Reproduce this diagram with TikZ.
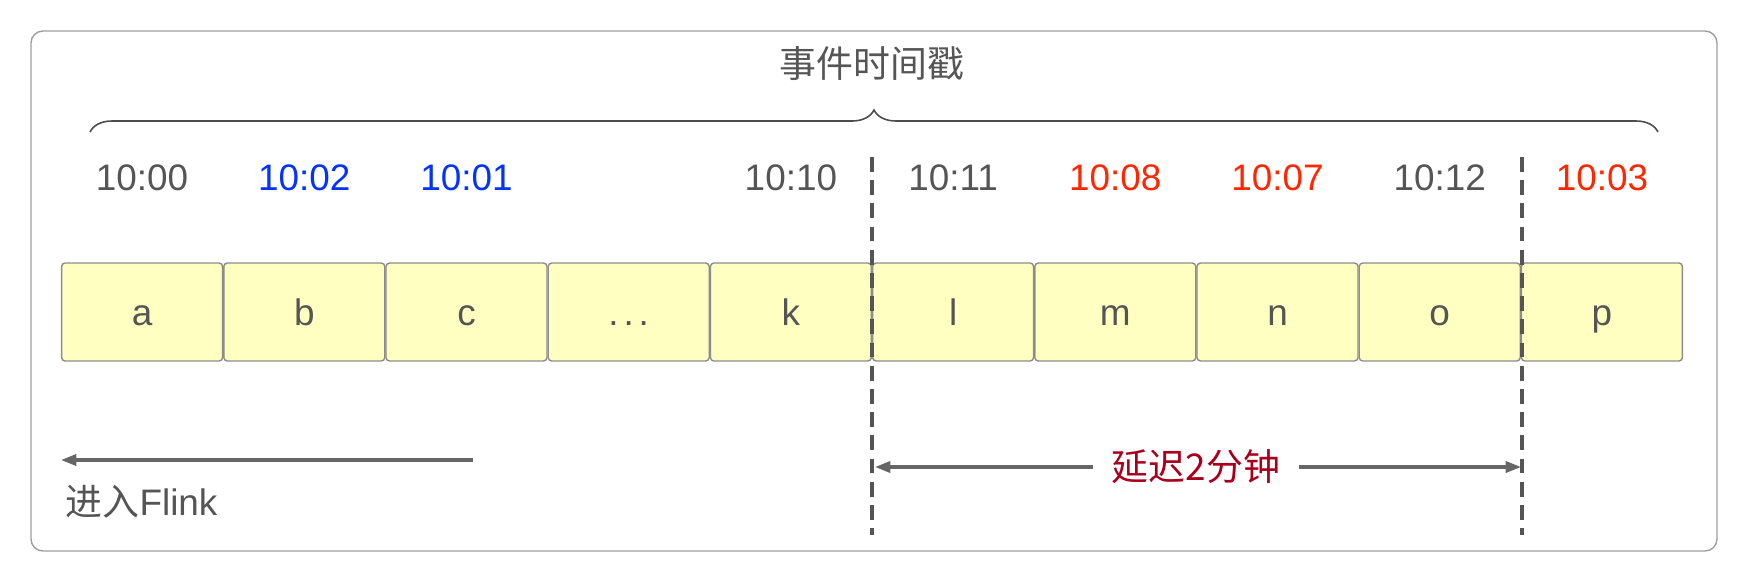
\documentclass[tikz,border=0pt]{standalone}
\usepackage{fontspec}
\setmainfont{Liberation Sans}
\newfontfamily\cjk{Noto Sans CJK SC}
\usetikzlibrary{arrows.meta,decorations.pathreplacing}
\definecolor{txtgray}{HTML}{555555}
\definecolor{tsblue}{HTML}{0433FF}
\definecolor{tsred}{HTML}{FF2600}
\definecolor{delayred}{HTML}{A8001C}
\definecolor{boxyellow}{HTML}{FFFFC2}
\definecolor{linegray}{HTML}{666666}
\newcommand\evdots{.\kern1.4pt.\kern1.4pt.}
\begin{document}
\begin{tikzpicture}[x=0.1mm,y=-0.1mm]
    \tikzstyle{event}=[draw=black!45,fill=boxyellow,rounded corners=1pt,minimum width=16.1mm,minimum height=9.8mm,inner sep=0pt,text height=7.4pt,text depth=0pt,font=\fontsize{10.5}{12}\selectfont,text=txtgray]
    \tikzstyle{stamp}=[inner sep=0pt,font=\fontsize{10.5}{12}\selectfont]
    \tikzstyle{label}=[inner sep=0pt,font=\fontsize{10.5}{12}\selectfont,text=txtgray]
    \tikzstyle{flow}=[draw=linegray,line width=0.9pt,-{Triangle[length=4.4pt,width=3.2pt]}]
    \tikzstyle{cut}=[draw=txtgray,line width=0.9pt,dash pattern=on 4.2pt off 2.4pt]
    \useasboundingbox (0,0) rectangle (1745,582);
    \draw[black!38,rounded corners=1.2mm] (31,31) rectangle (1717,551);
    % title and brace
    \node [label] (title) at (872,64) {\cjk 事件时间戳};
    \coordinate (braceL) at (90,132);
    \coordinate (braceR) at (1658,132);
    \draw[black!70,line width=0.45pt,decorate,decoration={brace,amplitude=2.2mm,aspect=0.5}] (braceL) -- (braceR);
    % events with their timestamps
    \foreach \name/\lbl/\ts/\col [count=\i] in {a/a/10:00/txtgray,b/b/10:02/tsblue,c/c/10:01/tsblue,dots/\evdots/{}/txtgray,k/k/10:10/txtgray,l/l/10:11/txtgray,m/m/10:08/tsred,n/n/10:07/tsred,o/o/10:12/txtgray,p/p/10:03/tsred} {
        \pgfmathsetmacro\cx{61+162.2*(\i-0.5)}
        \node [event] (\name) at (\cx,312) {\lbl};
        \node [stamp,text=\col] (ts\name) at (\cx,178) {\ts};
    }
    % watermark cuts
    \coordinate (cutAtop) at (872,157);
    \coordinate (cutAbot) at (872,535);
    \coordinate (cutBtop) at (1522,157);
    \coordinate (cutBbot) at (1522,535);
    \path[cut] (cutAtop) -- (cutAbot);
    \path[cut] (cutBtop) -- (cutBbot);
    % delay
    \node [label,text=delayred,inner xsep=1.8mm] (delay) at (1196,467) {\cjk 延迟2分钟};
    \coordinate (delayL) at (875,467);
    \coordinate (delayR) at (1521,467);
    \path[flow] (delay.west) -- (delayL);
    \path[flow] (delay.east) -- (delayR);
    % into flink
    \coordinate (inStart) at (473,460);
    \coordinate (inEnd) at (61,460);
    \path[flow] (inStart) -- (inEnd);
    \node [label,anchor=west] (inflink) at (65,502) {{\cjk 进入}Flink};
\end{tikzpicture}
\end{document}
